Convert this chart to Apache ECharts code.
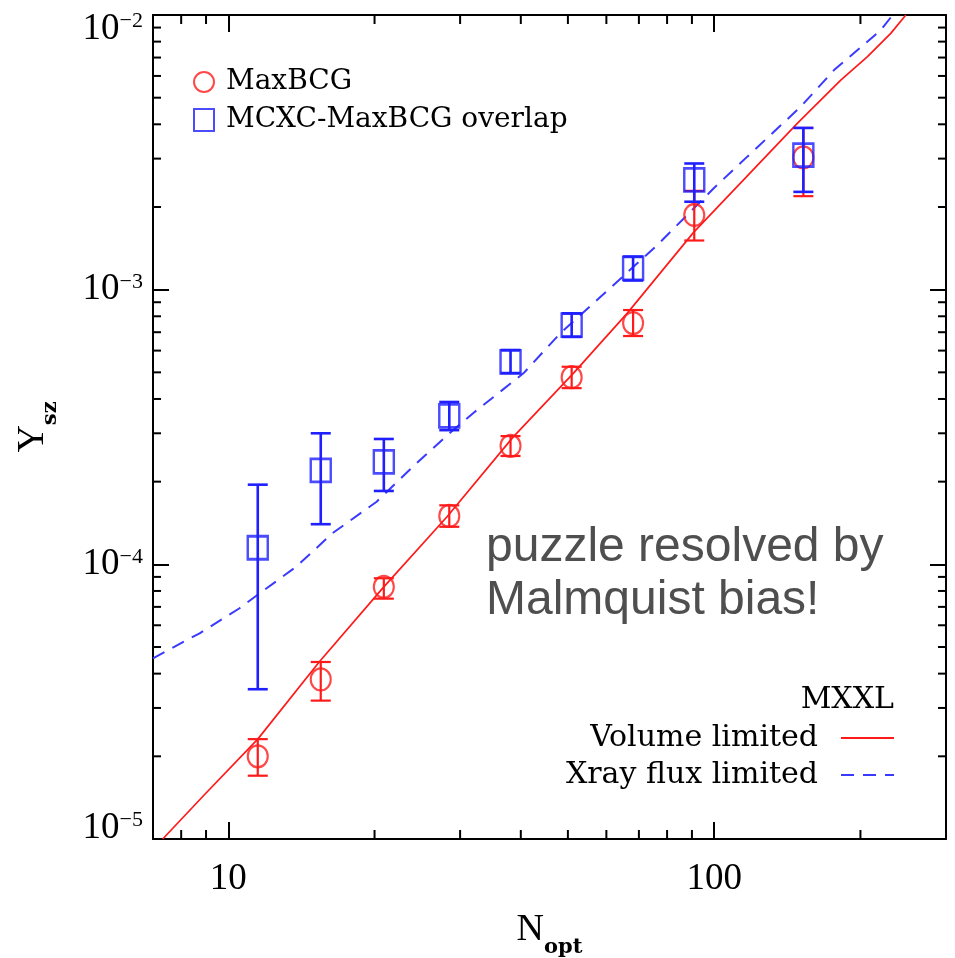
<!DOCTYPE html>
<html><head><meta charset="utf-8">
<script src="https://cdn.jsdelivr.net/npm/echarts@6.0.0/dist/echarts.min.js"></script>
<style>html,body{margin:0;padding:0;background:#fff}#c{width:955px;height:958px}</style>
</head><body><div id="c"></div>
<script>
// ---- data ----
const nOpt = [11.5, 15.5, 20.9, 28.5, 38.1, 50.9, 68.1, 91.0, 152.6];

const maxbcgY  = [2.0e-5, 3.81e-5, 8.28e-5, 1.50e-4, 2.70e-4, 4.80e-4, 7.56e-4, 1.87e-3, 3.03e-3];
const maxbcgLo = [1.70e-5, 3.19e-5, 7.5e-5, 1.37e-4, 2.48e-4, 4.38e-4, 6.78e-4, 1.51e-3, 2.19e-3];
const maxbcgHi = [2.31e-5, 4.41e-5, 8.9e-5, 1.64e-4, 2.93e-4, 5.24e-4, 8.43e-4, 2.29e-3, 3.88e-3];

const mcxcY  = [1.149e-4, 2.20e-4, 2.36e-4, 3.47e-4, 5.46e-4, 7.43e-4, 1.195e-3, 2.51e-3, 3.09e-3];
const mcxcLo = [3.51e-5, 1.40e-4, 1.85e-4, 3.08e-4, 4.97e-4, 6.73e-4, 1.08e-3, 2.09e-3, 2.27e-3];
const mcxcHi = [1.95e-4, 3.00e-4, 2.86e-4, 3.9e-4, 6.03e-4, 8.2e-4, 1.32e-3, 2.88e-3, 3.88e-3];

const volN = [7.33, 8.9, 11.5, 15.4, 20.9, 28.2, 38.6, 51.3, 66.2, 90.8, 148.3, 182.2, 206.8, 230.9, 248];
const volY = [1.0e-5, 1.44e-5, 2.31e-5, 4.42e-5, 8.28e-5, 1.49e-4, 2.91e-4, 4.96e-4, 8.2e-4, 1.62e-3, 4.03e-3, 5.79e-3, 7.05e-3, 8.57e-3, 1.0e-2];

const xrayN = [7, 8.73, 10.55, 11.6, 13.8, 16.4, 20.2, 24.0, 29.0, 31.9, 40.5, 48.2, 57.4, 76.3, 99.8, 117, 150.6, 176.5, 220.3, 233];
const xrayY = [4.55e-5, 5.61e-5, 6.92e-5, 7.84e-5, 9.8e-5, 1.30e-4, 1.69e-4, 2.27e-4, 3.08e-4, 3.55e-4, 4.96e-4, 6.93e-4, 9.17e-4, 1.45e-3, 2.34e-3, 3.05e-3, 4.63e-3, 6.30e-3, 8.81e-3, 1.0e-2];

const xMin = 7, xMax = 300, yMin = 1e-5, yMax = 1e-2;
const xTickValues = [10, 100];
const xTickLabels = ['10', '100'];
const yTickValues = [1e-5, 1e-4, 1e-3, 1e-2];
const yTickExps = ['\u22125', '\u22124', '\u22123', '\u22122'];
const xMinorTicks = [8, 9, 20, 30, 40, 50, 60, 70, 80, 90, 200];
const yMinorTicks = [2e-5,3e-5,4e-5,5e-5,6e-5,7e-5,8e-5,9e-5,2e-4,3e-4,4e-4,5e-4,6e-4,7e-4,8e-4,9e-4,2e-3,3e-3,4e-3,5e-3,6e-3,7e-3,8e-3,9e-3];

// ---- build ----
const RED = '#ff1a1a', BLUE = '#1f1fff';
const serif = 'Liberation Serif';
const legFont = 'DejaVu Serif';

function zip(xs, ys) { return xs.map((x, i) => [x, ys[i]]); }
function errRows(xs, ys, lo, hi) { return xs.map((x, i) => [x, ys[i], lo[i], hi[i]]); }

function errRender(color, lw) {
  return function (params, api) {
    const x = api.value(0), lo = api.value(2), hi = api.value(3);
    const a = api.coord([x, lo]), b = api.coord([x, hi]);
    const hw = 10;
    const st = { stroke: color, lineWidth: lw };
    return { type: 'group', children: [
      { type: 'line', shape: { x1: a[0], y1: a[1], x2: b[0], y2: b[1] }, style: st },
      { type: 'line', shape: { x1: a[0] - hw, y1: a[1], x2: a[0] + hw, y2: a[1] }, style: st },
      { type: 'line', shape: { x1: b[0] - hw, y1: b[1], x2: b[0] + hw, y2: b[1] }, style: st }
    ]};
  };
}

function xMinorRender(params, api) {
  const v = api.value(0);
  const pb = api.coord([v, yMin]), pt = api.coord([v, yMax]);
  const st = { stroke: '#000', lineWidth: 2 };
  return { type: 'group', children: [
    { type: 'line', shape: { x1: pb[0], y1: pb[1], x2: pb[0], y2: pb[1] - 9 }, style: st },
    { type: 'line', shape: { x1: pt[0], y1: pt[1], x2: pt[0], y2: pt[1] + 9 }, style: st }
  ]};
}
function yMinorRender(params, api) {
  const v = api.value(1);
  const pl = api.coord([xMin, v]), pr = api.coord([xMax, v]);
  const st = { stroke: '#000', lineWidth: 2 };
  return { type: 'group', children: [
    { type: 'line', shape: { x1: pl[0], y1: pl[1], x2: pl[0] + 8, y2: pl[1] }, style: st },
    { type: 'line', shape: { x1: pr[0], y1: pr[1], x2: pr[0] - 8, y2: pr[1] }, style: st }
  ]};
}

const axisLine = { show: true, lineStyle: { color: '#000', width: 2 } };

const option = {
  animation: false,
  backgroundColor: '#fff',
  grid: { left: 153, right: 9, top: 15, bottom: 119, containLabel: false, outerBoundsMode: 'none' },
  title: {
    text: 'MXXL', right: 61, top: 685, padding: 0,
    textStyle: { fontFamily: legFont, fontSize: 30, fontWeight: 'normal', color: '#000' }
  },
  legend: [
    {
      left: 188, top: 63, orient: 'vertical', itemWidth: 20, itemHeight: 22, itemGap: 10,
      data: ['MaxBCG', 'MCXC-MaxBCG overlap'],
      textStyle: { fontFamily: legFont, fontSize: 28, color: '#000', padding: [0, 0, 0, 7] }
    },
    {
      right: 55, top: 718, orient: 'vertical', align: 'right', itemWidth: 53, itemHeight: 14, itemGap: 7,
      data: ['Volume limited', 'Xray flux limited'],
      itemStyle: { opacity: 0 },
      textStyle: { fontFamily: legFont, fontSize: 30, color: '#000', padding: [0, 18, 0, 0] }
    }
  ],
  xAxis: [
    {
      type: 'log', min: xMin, max: xMax, logBase: 10,
      axisLine, splitLine: { show: false },
      axisTick: { inside: true, length: 17, lineStyle: { color: '#000', width: 2 } },
      axisLabel: {
        margin: 22, fontFamily: serif, fontSize: 37, color: '#000',
        showMinLabel: false, showMaxLabel: false,
        formatter: v => { const i = xTickValues.findIndex(t => Math.abs(t - v) / t < 1e-6); return i >= 0 ? xTickLabels[i] : ''; }
      },
      name: '{n|N}{s|opt}', nameLocation: 'middle', nameGap: 72,
      nameTextStyle: { rich: {
        n: { fontFamily: serif, fontSize: 38, color: '#000', verticalAlign: 'bottom', padding: [0, 0, 9, 0] },
        s: { fontFamily: legFont, fontSize: 21, fontWeight: 'bold', color: '#000', verticalAlign: 'bottom' }
      } }
    },
    {
      type: 'log', min: xMin, max: xMax, position: 'top',
      axisLine, splitLine: { show: false },
      axisTick: { inside: true, length: 17, lineStyle: { color: '#000', width: 2 } },
      axisLabel: { show: false }
    }
  ],
  yAxis: [
    {
      type: 'log', min: yMin, max: yMax, logBase: 10,
      axisLine, splitLine: { show: false },
      axisTick: { inside: true, length: 16, lineStyle: { color: '#000', width: 2 } },
      axisLabel: {
        margin: 10, color: '#000',
        formatter: v => {
          const i = yTickValues.findIndex(t => Math.abs(t - v) / t < 1e-6);
          if (i < 0) return '';
          const suf = i === yTickValues.length - 1 ? 'T' : (i === 0 ? 'B' : '');
          return '{b' + suf + '|10}{e' + suf + '|' + yTickExps[i] + '}';
        },
        rich: {
          b: { fontFamily: serif, fontSize: 37, color: '#000', verticalAlign: 'bottom' },
          e: { fontFamily: serif, fontSize: 22, color: '#000', verticalAlign: 'top' },
          bT: { fontFamily: serif, fontSize: 37, color: '#000', verticalAlign: 'bottom', padding: [28, 0, 0, 0] },
          eT: { fontFamily: serif, fontSize: 22, color: '#000', verticalAlign: 'top', padding: [28, 0, 0, 0] },
          bB: { fontFamily: serif, fontSize: 37, color: '#000', verticalAlign: 'bottom', padding: [0, 0, 22, 0] },
          eB: { fontFamily: serif, fontSize: 22, color: '#000', verticalAlign: 'top', padding: [0, 0, 22, 0] }
        }
      },
      name: '{n|Y}{s|sz}', nameLocation: 'middle', nameGap: 92, nameRotate: 90,
      nameTextStyle: { rich: {
        n: { fontFamily: serif, fontSize: 38, color: '#000', verticalAlign: 'bottom', padding: [0, 0, 9, 0] },
        s: { fontFamily: legFont, fontSize: 21, fontWeight: 'bold', color: '#000', verticalAlign: 'bottom' }
      } }
    },
    {
      type: 'log', min: yMin, max: yMax, position: 'right',
      axisLine, splitLine: { show: false },
      axisTick: { inside: true, length: 16, lineStyle: { color: '#000', width: 2 } },
      axisLabel: { show: false }
    }
  ],
  graphic: [
    {
      type: 'text', left: 486, top: 521, silent: true,
      style: { text: 'puzzle resolved by\nMalmquist bias!', font: '48px "Liberation Sans"', lineHeight: 53, fill: '#4f4f4f' }
    }
  ],
  series: [
    { type: 'custom', silent: true, renderItem: xMinorRender, data: xMinorTicks.map(v => [v, yMin]), z: 1 },
    { type: 'custom', silent: true, renderItem: yMinorRender, data: yMinorTicks.map(v => [xMin, v]), z: 1 },
    {
      name: 'Volume limited', type: 'line', data: zip(volN, volY), showSymbol: false, symbol: 'none',
      lineStyle: { color: RED, width: 1.7 }, itemStyle: { color: RED }, z: 2
    },
    {
      name: 'Xray flux limited', type: 'line', data: zip(xrayN, xrayY), showSymbol: false, symbol: 'none',
      lineStyle: { color: '#3a3aff', width: 2, type: [13, 9] }, itemStyle: { color: '#3a3aff' }, z: 2
    },
    { type: 'custom', silent: true, renderItem: errRender(RED, 2.2), data: errRows(nOpt, maxbcgY, maxbcgLo, maxbcgHi), encode: { x: 0, y: 1 }, z: 3 },
    {
      name: 'MaxBCG', type: 'scatter', data: zip(nOpt, maxbcgY), symbol: 'circle', symbolSize: [20, 22],
      itemStyle: { color: 'rgba(0,0,0,0)', borderColor: RED, borderWidth: 2.2 }, z: 4
    },
    { type: 'custom', silent: true, renderItem: errRender(BLUE, 2.6), data: errRows(nOpt, mcxcY, mcxcLo, mcxcHi), encode: { x: 0, y: 1 }, z: 5 },
    {
      name: 'MCXC-MaxBCG overlap', type: 'scatter', data: zip(nOpt, mcxcY), symbol: 'rect', symbolSize: [20, 23],
      itemStyle: { color: 'rgba(0,0,0,0)', borderColor: BLUE, borderWidth: 2.6 }, z: 6
    }
  ]
};

const chart = echarts.init(document.getElementById('c'), null, { renderer: 'canvas' });
chart.setOption(option);
</script></body></html>
